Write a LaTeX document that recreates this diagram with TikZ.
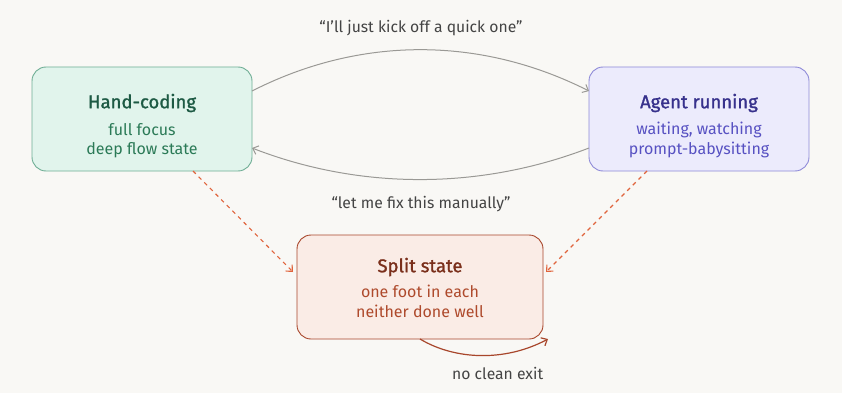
\documentclass[tikz,border=0pt]{standalone}
\usepackage{fontspec}
\setmainfont{Fira Sans}
\newfontfamily\titlefont[FakeBold=1.3]{Fira Sans}
\usetikzlibrary{arrows.meta}
\definecolor{bg}{HTML}{F9F8F5}
\definecolor{hcfill}{HTML}{E1F4EC}
\definecolor{hcdraw}{HTML}{6FAE95}
\definecolor{hctitle}{HTML}{1D5A44}
\definecolor{hcsub}{HTML}{2B7A57}
\definecolor{agfill}{HTML}{ECEBFC}
\definecolor{agdraw}{HTML}{8E8AD8}
\definecolor{agtitle}{HTML}{37318C}
\definecolor{agsub}{HTML}{5751C2}
\definecolor{spfill}{HTML}{FAECE6}
\definecolor{spdraw}{HTML}{A8462B}
\definecolor{sptitle}{HTML}{7A2F1B}
\definecolor{spsub}{HTML}{AE4A2C}
\definecolor{dash}{HTML}{E0643C}
\definecolor{grayline}{HTML}{9A9995}
\definecolor{labeltext}{HTML}{444444}
\tikzset{
  statebox/.style={draw, line width=0.9pt, rounded corners=14pt, minimum width=220pt, minimum height=104pt, inner sep=0pt},
  titletext/.style={font=\titlefont\fontsize{18.5}{21}\selectfont, inner sep=0pt},
  subtext/.style={font=\fontsize{16}{19}\selectfont, inner sep=0pt},
  quotetext/.style={font=\fontsize{15.7}{18}\selectfont, text=labeltext, inner sep=0pt},
  grayarrow/.style={draw=grayline, line width=1pt, -{Straight Barb[length=5pt,width=9pt]}},
  dasharrow/.style={draw=dash, line width=1.1pt, dashed, dash pattern=on 4pt off 4pt, -{Straight Barb[length=5pt,width=9pt]}},
  looparrow/.style={draw=spdraw, line width=1.2pt, -{Straight Barb[length=5pt,width=9pt]}}
}
\begin{document}
\begin{tikzpicture}[x=1pt,y=-1pt]
\fill[bg] (0,0) rectangle (842,393);
\useasboundingbox (0,0) rectangle (842,393);

\node[statebox, fill=hcfill, draw=hcdraw] (hc) at (142,119) {};
\node[statebox, fill=agfill, draw=agdraw] (ag) at (699,119) {};
\node[statebox, fill=spfill, draw=spdraw, minimum width=246pt] (sp) at (420,287) {};

\node[titletext, text=hctitle] (hct) at (142,103) {Hand-coding};
\node[subtext, text=hcsub] (hcs1) at (142,130) {full focus};
\node[subtext, text=hcsub] (hcs2) at (142,150) {deep flow state};

\node[titletext, text=agtitle] (agt) at (699,103) {Agent running};
\node[subtext, text=agsub] (ags1) at (699,130) {waiting, watching};
\node[subtext, text=agsub] (ags2) at (699,150) {prompt-babysitting};

\node[titletext, text=sptitle] (spt) at (420,267) {Split state};
\node[subtext, text=spsub] (sps1) at (420,291) {one foot in each};
\node[subtext, text=spsub] (sps2) at (420,311) {neither done well};

\node[quotetext] (q1) at (421,28) {“I’ll just kick off a quick one”};
\node[quotetext] (q2) at (421,204) {“let me fix this manually”};
\node[quotetext, anchor=west] (q3) at (452,373) {no clean exit};

\coordinate (hcR1) at (252,91);
\coordinate (agL1) at (589,91);
\coordinate (agL2) at (589,148);
\coordinate (hcR2) at (252,148);
\draw[grayarrow] (hcR1) .. controls (360,36) and (480,36) .. (agL1);
\draw[grayarrow] (agL2) .. controls (480,190) and (360,190) .. (hcR2);

\coordinate (hcB) at (193,171);
\coordinate (spL) at (293,272);
\coordinate (agB) at (647,171);
\coordinate (spR) at (546,272);
\draw[dasharrow] (hcB) -- (spL);
\draw[dasharrow] (agB) -- (spR);

\coordinate (spB) at (420,339);
\coordinate (spE) at (548,339);
\draw[looparrow] (spB) .. controls (455,360) and (505,362) .. (spE);
\end{tikzpicture}
\end{document}
